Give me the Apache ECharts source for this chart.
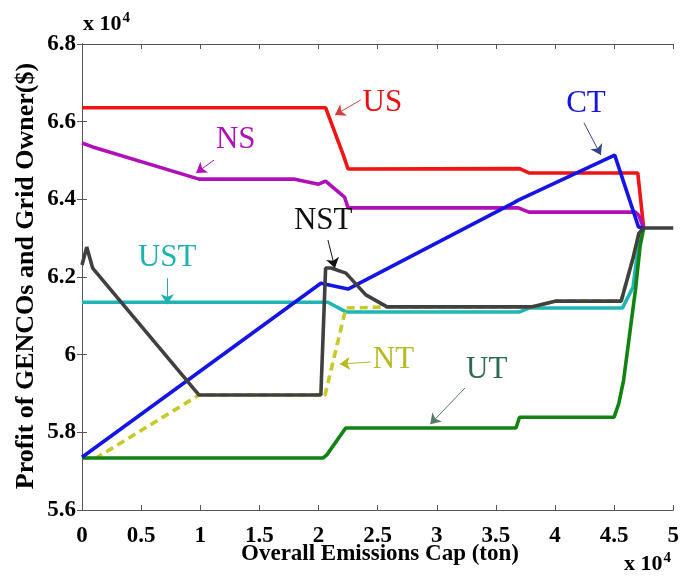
<!DOCTYPE html>
<html>
<head>
<meta charset="utf-8">
<script src="https://cdn.jsdelivr.net/npm/echarts@6/dist/echarts.min.js"></script>
<style>
html,body{margin:0;padding:0;background:#fff;}
#chart{width:682px;height:579px;}
</style>
</head>
<body>
<div id="chart"></div>
<script>
// x: Overall emissions cap (x 10^4 ton), y: profit (x 10^4 $)
var xTicks = [0, 0.5, 1, 1.5, 2, 2.5, 3, 3.5, 4, 4.5, 5];
var yTicks = [5.6, 5.8, 6, 6.2, 6.4, 6.6, 6.8];

var US  = [[0,6.636],[2.06,6.636],[2.21,6.514],[2.25,6.478],[3.70,6.479],[3.78,6.468],[4.70,6.468],[4.75,6.326]];
var NS  = [[0,6.545],[0.09,6.535],[0.99,6.452],[1.80,6.452],[2.00,6.439],[2.06,6.447],[2.22,6.406],[2.25,6.378],[3.69,6.378],[3.78,6.367],[4.68,6.367],[4.71,6.358],[4.75,6.326]];
var CT  = [[0,5.736],[2.02,6.184],[2.25,6.169],[3.65,6.391],[3.69,6.398],[4.505,6.514],[4.706,6.329],[4.75,6.326]];
var NST = [[0,6.231],[0.04,6.277],[0.09,6.223],[0.99,5.896],[2.02,5.896],[2.06,6.223],[2.106,6.223],[2.232,6.210],[2.40,6.154],[2.58,6.123],[3.80,6.123],[4.01,6.138],[4.56,6.138],[4.66,6.249],[4.71,6.313],[4.75,6.326],[5.0,6.326]];
var UST = [[0,6.135],[2.08,6.135],[2.232,6.110],[3.70,6.110],[3.78,6.120],[4.57,6.120],[4.66,6.174],[4.70,6.269],[4.74,6.326]];
var NT  = [[0,5.734],[0.12,5.734],[0.99,5.896],[2.055,5.896],[2.232,6.120],[2.58,6.123],[3.80,6.123],[4.01,6.138],[4.56,6.138],[4.66,6.249],[4.71,6.313],[4.75,6.326]];
var UT  = [[0,5.734],[2.04,5.734],[2.07,5.742],[2.23,5.811],[3.67,5.811],[3.70,5.839],[4.50,5.839],[4.54,5.875],[4.58,5.934],[4.68,6.166],[4.72,6.28],[4.75,6.326]];

// annotation label anchors and arrows (data coordinates)
var annotations = {
  US:  {at:[2.54,6.648], from:[2.357,6.656], to:[2.139,6.617]},
  NS:  {at:[1.30,6.553], from:[1.116,6.501], to:[0.965,6.468]},
  CT:  {at:[4.262,6.645], from:[4.245,6.597], to:[4.388,6.514]},
  NST: {at:[2.04,6.344], from:[2.08,6.295], to:[2.139,6.223]},
  UST: {at:[0.721,6.249], from:[0.721,6.197], to:[0.721,6.130]},
  NT:  {at:[2.634,5.986], from:[2.441,5.981], to:[2.181,5.976]},
  UT:  {at:[3.423,5.960], from:[3.238,5.914], to:[2.945,5.821]}
};

var styles = {
  UST: {color:'#1fb5b5', text:'#1fb0b0', arrow:'#1fb0b0'},
  NT:  {color:'#c8c828', text:'#b8b822', arrow:'#b8b822', dash:[8,5]},
  UT:  {color:'#128212', text:'#2d6b50', arrow:'#5a7a6a'},
  US:  {color:'#f01414', text:'#e81010', arrow:'#d04040'},
  NS:  {color:'#b010b8', text:'#b010b8', arrow:'#b010b8'},
  CT:  {color:'#1414e6', text:'#1414e0', arrow:'#334488'},
  NST: {color:'#404040', text:'#101010', arrow:'#101010'}
};
var seriesData = {US:US, NS:NS, CT:CT, NST:NST, UST:UST, NT:NT, UT:UT};
var order = ['UST','NT','UT','US','NS','CT','NST'];

var serif = '"Liberation Serif","Times New Roman",serif';

var series = order.map(function(k){
  var s = styles[k], a = annotations[k];
  return {
    name: k,
    type: 'line',
    data: seriesData[k],
    showSymbol: false,
    symbol: 'none',
    animation: false,
    lineStyle: {color: s.color, width: 3.6, type: s.dash || 'solid'},
    markLine: {
      silent: true, animation: false,
      symbol: ['none','arrow'], symbolSize: 10,
      label: {show: false},
      itemStyle: {color: s.arrow},
      lineStyle: {color: s.arrow, width: 1, type: 'solid'},
      data: [[{coord: a.from}, {coord: a.to}]]
    },
    markPoint: {
      silent: true, animation: false,
      symbol: 'circle', symbolSize: 0,
      label: {show: true, position: 'inside', formatter: k, color: s.text,
              fontFamily: serif, fontSize: 31},
      data: [{coord: a.at, value: k}]
    }
  };
});

var axisLineStyle = {color:'#555', width:1};
var chart = echarts.init(document.getElementById('chart'), null, {renderer:'canvas'});
chart.setOption({
  animation: false,
  backgroundColor: '#fff',
  grid: {left: 82, right: 4, top: 44, bottom: 69, containLabel: false},
  xAxis: [{
    type: 'value', min: 0, max: 5, interval: 0.5, position: 'bottom',
    axisLine: {show: true, lineStyle: axisLineStyle},
    axisTick: {show: true, inside: true, length: 5, lineStyle: axisLineStyle},
    splitLine: {show: false},
    axisLabel: {color:'#000', fontFamily: serif, fontWeight:'bold', fontSize: 23, margin: 15,
      formatter: function(v){ return String(+v.toFixed(1)); }}
  },{
    type: 'value', min: 0, max: 5, interval: 0.5, position: 'top',
    axisLine: {show: true, lineStyle: axisLineStyle},
    axisTick: {show: true, inside: true, length: 5, lineStyle: axisLineStyle},
    splitLine: {show: false}, axisLabel: {show: false}
  }],
  yAxis: [{
    type: 'value', min: 5.6, max: 6.8, interval: 0.2, position: 'left',
    axisLine: {show: true, lineStyle: axisLineStyle},
    axisTick: {show: true, inside: true, length: 5, lineStyle: axisLineStyle},
    splitLine: {show: false},
    axisLabel: {color:'#000', fontFamily: serif, fontWeight:'bold', fontSize: 23, margin: 6,
      formatter: function(v){ return String(+v.toFixed(1)); }}
  },{
    type: 'value', min: 5.6, max: 6.8, interval: 0.2, position: 'right',
    axisLine: {show: true, lineStyle: axisLineStyle},
    axisTick: {show: true, inside: true, length: 5, lineStyle: axisLineStyle},
    splitLine: {show: false}, axisLabel: {show: false}
  }],
  graphic: [
    {type:'text', x: 380, y: 554, style:{text:'Overall Emissions Cap (ton)', fontFamily: serif,
      fontWeight:'bold', fontSize: 23, fill:'#000', align:'center', verticalAlign:'middle'}},
    {type:'text', x: 26, y: 276, rotation: Math.PI/2, style:{text:'Profit of GENCOs and Grid Owner($)',
      fontFamily: serif, fontWeight:'bold', fontSize: 26, fill:'#000', align:'center', verticalAlign:'middle'}},
    {type:'text', x: 83, y: 38, style:{text:'x 10{s|4}', fontFamily: serif, fontWeight:'bold', fontSize: 22,
      fill:'#000', align:'left', verticalAlign:'bottom',
      rich:{s:{fontFamily: serif, fontWeight:'bold', fontSize: 15, verticalAlign:'top', padding:[0,0,12,1]}}}},
    {type:'text', x: 624, y: 578, style:{text:'x 10{s|4}', fontFamily: serif, fontWeight:'bold', fontSize: 22,
      fill:'#000', align:'left', verticalAlign:'bottom',
      rich:{s:{fontFamily: serif, fontWeight:'bold', fontSize: 15, verticalAlign:'top', padding:[0,0,12,1]}}}}
  ],
  series: series
});
</script>
</body>
</html>
